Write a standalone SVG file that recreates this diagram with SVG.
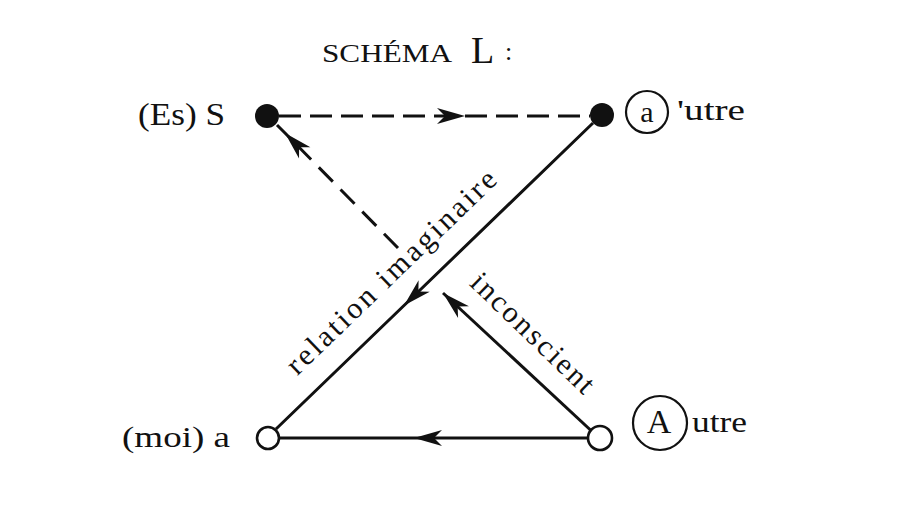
<svg xmlns="http://www.w3.org/2000/svg" width="915" height="515" viewBox="0 0 915 515">
  <style>
    .lbl { font-family: "Liberation Serif", "Times New Roman", serif; fill: #111; }
    .ln { stroke: #111; stroke-width: 3; fill: none; }
    .dash { stroke-dasharray: 22 9; }
    .dash2 { stroke-dasharray: 20 11; }
    .ring { fill: none; stroke: #111; stroke-width: 2.2; }
    .open { fill: #fff; stroke: #111; stroke-width: 2.6; }
    .dot { fill: #111; }
  </style>
  <defs>
    <marker id="arr" markerUnits="userSpaceOnUse" markerWidth="40" markerHeight="30" viewBox="-32 -15 40 30" refX="0" refY="0" orient="auto">
      <path d="M0,0 L-28,-8 L-20,0 L-28,8 Z" fill="#111"/>
    </marker>
  </defs>
  <rect width="915" height="515" fill="#fff"/>

  <g id="title">
    <text class="lbl" x="322" y="62" font-size="26" textLength="130" lengthAdjust="spacingAndGlyphs">SCHÉMA</text>
    <text class="lbl" x="471" y="63" font-size="38">L</text>
    <text class="lbl" x="505" y="60" font-size="26">:</text>
  </g>

  <g id="connectors">
    <path class="ln dash" d="M279,116 L465,116 L590,116" marker-mid="url(#arr)"/>
    <path class="ln dash2" d="M398,248 L285,133 L277,125" marker-mid="url(#arr)"/>
    <path class="ln" d="M598,437 L443,293" marker-end="url(#arr)"/>
    <path class="ln" d="M593,123 L404,305.5 L276,429" marker-mid="url(#arr)"/>
    <path class="ln" d="M588,438 L414,438 L280,438" marker-mid="url(#arr)"/>
  </g>

  <g id="node-S">
    <circle class="dot" cx="267" cy="116" r="12"/>
    <text class="lbl" x="138" y="125" font-size="31" textLength="87" lengthAdjust="spacingAndGlyphs">(Es) S</text>
  </g>

  <g id="node-a-prime">
    <circle class="dot" cx="602" cy="115" r="12"/>
    <circle class="ring" cx="647" cy="112" r="21"/>
    <text class="lbl" x="647" y="122" font-size="30" text-anchor="middle">a</text>
    <text class="lbl" x="677" y="120" font-size="30" textLength="68" lengthAdjust="spacingAndGlyphs">'utre</text>
  </g>

  <g id="node-a">
    <circle class="open" cx="268" cy="438" r="11"/>
    <text class="lbl" x="122" y="447" font-size="30" textLength="108" lengthAdjust="spacingAndGlyphs">(moi) a</text>
  </g>

  <g id="node-A">
    <circle class="open" cx="600" cy="438" r="12"/>
    <circle class="ring" cx="660" cy="423" r="27"/>
    <text class="lbl" x="659" y="433" font-size="34" text-anchor="middle">A</text>
    <text class="lbl" x="692" y="432" font-size="30" textLength="55" lengthAdjust="spacingAndGlyphs">utre</text>
  </g>

  <g id="edge-labels">
    <text class="lbl" font-size="30" text-anchor="middle" textLength="280" lengthAdjust="spacing" transform="translate(398,279) rotate(-44)">relation imaginaire</text>
    <text class="lbl" font-size="30" text-anchor="middle" textLength="160" lengthAdjust="spacing" transform="translate(526,340) rotate(44)">inconscient</text>
  </g>
</svg>
